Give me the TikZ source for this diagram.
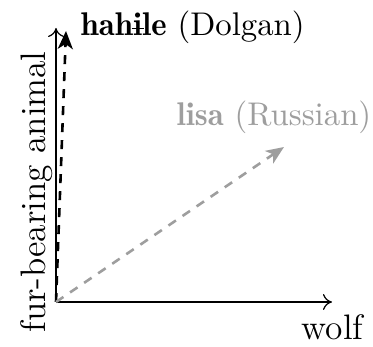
\documentclass[tikz,border=0pt]{standalone}
\usepackage{fontspec}
\newfontfamily\demifont[Extension=.otf]{lmromandemi10-regular}
\usetikzlibrary{arrows.meta}
\newcommand{\barredi}{\ooalign{i\cr\hidewidth\rule[0.5ex]{0.36em}{0.07ex}\hidewidth\cr}}
\tikzset{
  axisline/.style={line width=1.2pt, -{To[length=9pt,width=16pt,line width=1.2pt]}},
  vecline/.style={line width=2.6pt, dash pattern=on 9pt off 8pt, -{Stealth[length=18pt,width=15pt,inset=5pt]}},
  smalllabel/.style={inner sep=0pt, scale=3.28, transform shape, font=\normalsize},
  biglabel/.style={inner sep=0pt, scale=2.95, transform shape, font=\large},
}
\begin{document}
\begin{tikzpicture}[x=1pt,y=1pt]
\useasboundingbox (0,0) rectangle (373,347);
\coordinate (O) at (56,45);
\coordinate (xend) at (332,45);
\coordinate (yend) at (56,319);
\coordinate (dolg) at (66,316);
\coordinate (lisa) at (284,200);
\draw[axisline] (O) -- (xend);
\draw[axisline] (O) -- (yend);
\draw[vecline, black] (O) -- (dolg);
\draw[vecline, black!38] (O) -- (lisa);
\node[smalllabel, anchor=base west] (dl) at (80,311) {{\demifont hah\barredi le} (Dolgan)};
\node[smalllabel, anchor=base west, text=black!38] (rl) at (176,221) {{\demifont lisa} (Russian)};
\node[biglabel, anchor=base east] (wl) at (364,7) {wolf};
\node[biglabel, anchor=base, rotate=90] (fl) at (45,155) {fur-bearing animal};
\end{tikzpicture}
\end{document}
